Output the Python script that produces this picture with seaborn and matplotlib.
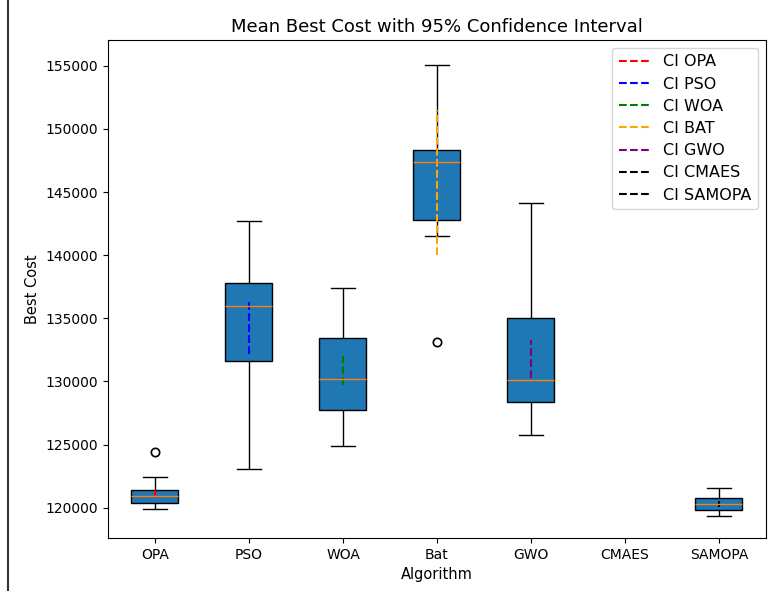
import matplotlib
matplotlib.use("Agg")
import matplotlib.pyplot as plt
import numpy as np
import pandas as pd
import seaborn as sns
from matplotlib.lines import Line2D

algorithms = ["OPA", "PSO", "WOA", "Bat", "GWO", "CMAES", "SAMOPA"]

# best cost per run (read off the boxes), CMAES has no runs
opa_costs = [119900, 120100, 120350, 120600, 120900, 121200, 121400, 122400, 124450]
pso_costs = [123100, 129000, 131600, 133500, 135950, 136800, 137800, 140000, 142700]
woa_costs = [124900, 126500, 127750, 129000, 130200, 131800, 133450, 135500, 137400]
bat_costs = [133100, 141550, 142800, 145000, 147400, 147900, 148350, 151000, 155100]
gwo_costs = [125750, 127000, 128350, 129200, 130150, 132500, 135050, 139000, 144150]
cmaes_costs = []
samopa_costs = [119350, 119600, 119850, 120100, 120300, 120550, 120800, 121200, 121600]

# 95% confidence interval of the mean
ci_labels = ["CI OPA", "CI PSO", "CI WOA", "CI BAT", "CI GWO", "CI CMAES", "CI SAMOPA"]
ci_low = [120750, 132200, 129700, 140000, 130250, np.nan, 120050]
ci_high = [121600, 136400, 132050, 151500, 133250, np.nan, 120550]
ci_colors = ["red", "blue", "green", "orange", "purple", "black", "black"]

all_costs = [opa_costs, pso_costs, woa_costs, bat_costs, gwo_costs, cmaes_costs, samopa_costs]
df = pd.DataFrame({
    "Algorithm": [a for a, c in zip(algorithms, all_costs) for _ in c],
    "Best Cost": [v for c in all_costs for v in c],
})

fig = plt.figure(figsize=(7.75, 5.91), dpi=100)
ax = fig.add_axes([108 / 775, 1 - 538 / 591, 658 / 775, 498 / 591])

sns.boxplot(
    data=df, x="Algorithm", y="Best Cost", order=algorithms, ax=ax,
    color="#1f77b4", saturation=1, width=0.5, linecolor="black", linewidth=1,
    medianprops=dict(color="#ff7f0e", linewidth=1),
    flierprops=dict(marker="o", markerfacecolor="none", markeredgecolor="black",
                    markersize=6, markeredgewidth=1.2),
)

for i, (lo, hi) in enumerate(zip(ci_low, ci_high)):
    ax.plot([i, i], [lo, hi], linestyle="--", color=ci_colors[i], linewidth=1.5,
            label=ci_labels[i])

ax.set_xlim(-0.5, 6.5)
ax.set_ylim(117600, 157050)
ax.set_title("Mean Best Cost with 95% Confidence Interval", fontsize=13)
ax.set_xlabel("Algorithm", fontsize=10.5)
ax.set_ylabel("Best Cost", fontsize=10.5)
ax.tick_params(labelsize=10)
ax.legend(loc="upper right", fontsize=11.5, labelspacing=0.45)

# left edge of the screenshot frame
fig.add_artist(Line2D([8 / 775, 8 / 775], [0, 1], transform=fig.transFigure,
                      color="#333333", linewidth=1.5))

fig.savefig("out.png", dpi=100)
